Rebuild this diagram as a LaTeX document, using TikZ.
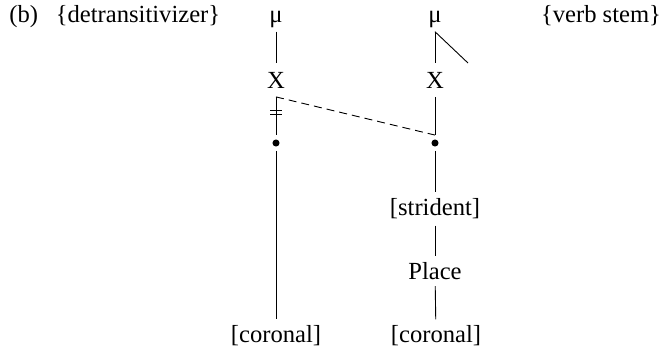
\documentclass[tikz,border=0pt]{standalone}
\usepackage{fontspec}
\setmainfont{Liberation Serif}
\usepackage{tikz}
\usetikzlibrary{positioning, calc}

\begin{document}
\begin{tikzpicture}[x=0.5pt, y=-0.5pt, line width=0.45pt]
    \tikzstyle{lbl} = [inner sep=3pt, font=\fontsize{12.3}{14}\selectfont]
    \tikzstyle{slot} = [inner sep=4.2pt, font=\fontsize{12.3}{14}\selectfont]
    \tikzstyle{root} = [circle, fill=black, inner sep=1.25pt, outer sep=2.2pt]
    \useasboundingbox (0,0) rectangle (671,350);

    % top row
    \node [lbl, anchor=base west] (ex) at (3,22) {(b)};
    \node [lbl, anchor=base] (detr) at (138,22) {\{detransitivizer\}};
    \node [lbl, anchor=base] (stem) at (601,22) {\{verb stem\}};
    \node [lbl, anchor=base, inner sep=2pt] (mu1) at (276,22) {μ};
    \node [lbl, anchor=base, inner sep=2pt] (mu2) at (435,22) {μ};

    % skeleton and root nodes
    \node [slot] (x1) at (276,80) {X};
    \node [slot] (x2) at (435,80) {X};
    \node [root] (d1) at (276,143) {};
    \node [root] (d2) at (435,143) {};
    \coordinate (next) at (468,63);

    % features
    \node [lbl] (str) at (435,209) {[strident]};
    \node [lbl] (place) at (435,271) {Place};
    \node [lbl] (cor1) at (276,336) {[coronal]};
    \node [lbl] (cor2) at (436,336) {[coronal]};

    \draw (mu1) -- (x1);
    \draw (mu2) -- (x2);
    \draw (mu2.south) -- (next);
    \draw (x1) -- (d1);
    \draw (x2) -- (d2);
    \draw [dashed, dash pattern=on 4pt off 2.5pt] (x1.south) -- (d2.north);
    % delinked association
    \path (x1.south) -- coordinate[pos=0.4] (cut) (d1.north);
    \draw ($(cut)+(-6,-2)$) -- ++(12,0);
    \draw ($(cut)+(-6,2)$) -- ++(12,0);
    \draw (d1) -- (cor1);
    \draw (d2) -- (str);
    \draw (str) -- (place);
    \draw (place) -- (cor2);
\end{tikzpicture}
\end{document}
